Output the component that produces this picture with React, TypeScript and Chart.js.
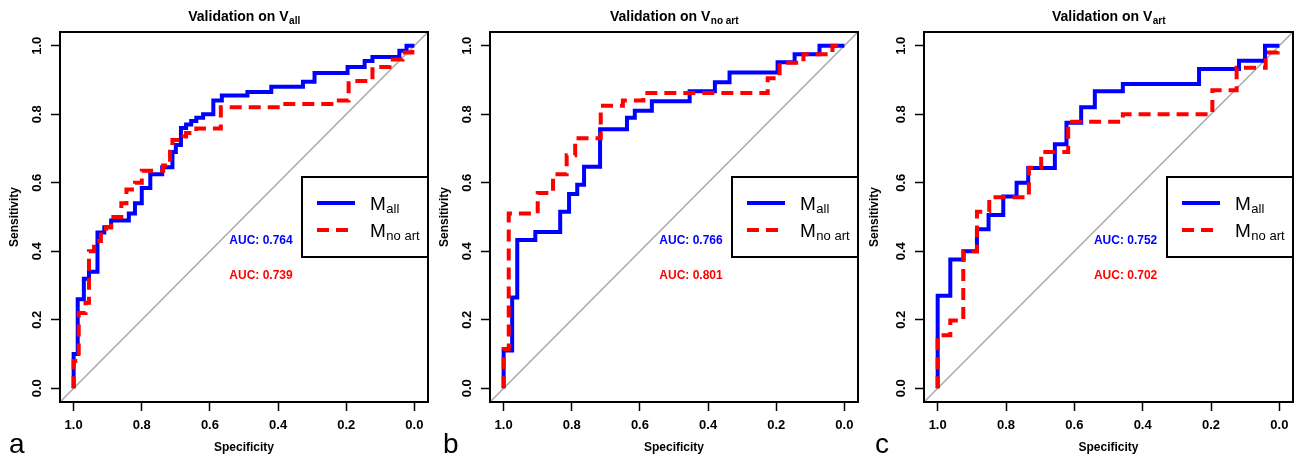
import React, { useEffect, useRef } from "react";
import { Chart, registerables } from "chart.js";
Chart.register(...registerables);

// ---------- data ----------
const TICK_VALUES = [0, 0.2, 0.4, 0.6, 0.8, 1.0];
const TICK_LABELS = ["0.0", "0.2", "0.4", "0.6", "0.8", "1.0"];

const TITLE_SUBS = ["all", "no art", "art"];
const PANEL_LETTERS = ["a", "b", "c"];
const SERIES_NAMES = ["all", "no art"];
const AUC_ALL = [0.764, 0.766, 0.752];
const AUC_NOART = [0.739, 0.801, 0.702];

// Panel a
const A_ALL_SPEC = [1, 1, 0.988, 0.97, 0.955, 0.93, 0.91, 0.89, 0.838, 0.82, 0.8, 0.775, 0.74, 0.71, 0.7, 0.685, 0.67, 0.655, 0.64, 0.62, 0.59, 0.565, 0.49, 0.42, 0.327, 0.293, 0.196, 0.146, 0.123, 0.044, 0.023, 0];
const A_ALL_SENS = [0, 0.1, 0.26, 0.32, 0.34, 0.455, 0.47, 0.49, 0.51, 0.54, 0.585, 0.625, 0.645, 0.69, 0.71, 0.76, 0.77, 0.78, 0.79, 0.8, 0.84, 0.855, 0.865, 0.88, 0.895, 0.92, 0.938, 0.955, 0.967, 0.985, 1.0, 1.0];
const A_NOART_SPEC = [1, 1, 0.985, 0.965, 0.955, 0.94, 0.92, 0.905, 0.89, 0.86, 0.845, 0.82, 0.8, 0.737, 0.717, 0.71, 0.678, 0.67, 0.64, 0.568, 0.385, 0.228, 0.193, 0.123, 0.073, 0.035, 0.006, 0];
const A_NOART_SENS = [0, 0.08, 0.22, 0.25, 0.4, 0.43, 0.455, 0.47, 0.5, 0.54, 0.58, 0.6, 0.635, 0.65, 0.7, 0.725, 0.735, 0.745, 0.758, 0.82, 0.83, 0.84, 0.897, 0.938, 0.96, 0.98, 1.0, 1.0];

// Panel b
const B_ALL_SPEC = [1, 1, 0.975, 0.96, 0.907, 0.834, 0.808, 0.784, 0.764, 0.717, 0.638, 0.615, 0.565, 0.454, 0.38, 0.337, 0.196, 0.146, 0.073, 0];
const B_ALL_SENS = [0, 0.11, 0.265, 0.433, 0.456, 0.515, 0.567, 0.594, 0.647, 0.756, 0.79, 0.81, 0.838, 0.867, 0.893, 0.922, 0.952, 0.975, 1.0, 1.0];
const B_NOART_SPEC = [1, 1, 0.985, 0.9, 0.855, 0.815, 0.79, 0.715, 0.65, 0.59, 0.225, 0.19, 0.12, 0.035, 0];
const B_NOART_SENS = [0, 0.115, 0.51, 0.57, 0.625, 0.68, 0.73, 0.825, 0.84, 0.862, 0.905, 0.95, 0.975, 1.0, 1.0];

// Panel c
const C_ALL_SPEC = [1, 1, 0.963, 0.924, 0.885, 0.851, 0.808, 0.769, 0.735, 0.657, 0.623, 0.58, 0.54, 0.458, 0.235, 0.118, 0.042, 0];
const C_ALL_SENS = [0, 0.27, 0.376, 0.4, 0.464, 0.506, 0.56, 0.6, 0.643, 0.712, 0.775, 0.82, 0.867, 0.888, 0.932, 0.956, 1.0, 1.0];
const C_NOART_SPEC = [1, 1, 0.963, 0.925, 0.885, 0.849, 0.733, 0.697, 0.618, 0.458, 0.196, 0.125, 0.04, 0.005, 0];
const C_NOART_SENS = [0, 0.155, 0.198, 0.4, 0.515, 0.558, 0.644, 0.69, 0.778, 0.8, 0.87, 0.936, 0.98, 1.0, 1.0];

const CURVES = [
  { allSpec: A_ALL_SPEC, allSens: A_ALL_SENS, noSpec: A_NOART_SPEC, noSens: A_NOART_SENS },
  { allSpec: B_ALL_SPEC, allSens: B_ALL_SENS, noSpec: B_NOART_SPEC, noSens: B_NOART_SENS },
  { allSpec: C_ALL_SPEC, allSens: C_ALL_SENS, noSpec: C_NOART_SPEC, noSens: C_NOART_SENS },
];

const DIAG_SPEC = [1.04, -0.04];
const DIAG_SENS = [-0.04, 1.04];
const AUC_POS_SPEC = 0.45;
const AUC_POS_SENS = [0.43, 0.33];

// ---------- layout / style ----------
const LAYOUT = [
  { left: 0, width: 430, axisW: 60, letterX: 9 },
  { left: 430, width: 430, axisW: 60, letterX: 13 },
  { left: 860, width: 435, axisW: 64, letterX: 15 },
];
const H = 460;
const FONT = "'Liberation Sans', Arial, Helvetica, sans-serif";
const BLUE = "#0000ff";
const RED = "#ff0000";

Chart.defaults.font.family = FONT;

function pts(xs: number[], ys: number[]) {
  return xs.map((x, i) => ({ x, y: ys[i] }));
}

function drawSub(ctx: CanvasRenderingContext2D, x: number, y: number, main: string, sub: string,
  mainFont: string, subFont: string, dy: number, center: boolean) {
  ctx.font = mainFont;
  const w1 = ctx.measureText(main).width;
  ctx.font = subFont;
  const w2 = ctx.measureText(sub).width;
  const sx = center ? x - (w1 + w2) / 2 : x;
  ctx.textAlign = "left";
  ctx.textBaseline = "alphabetic";
  ctx.font = mainFont;
  ctx.fillText(main, sx, y);
  ctx.font = subFont;
  ctx.fillText(sub, sx + w1 + 0.5, y + dy);
}

function RocPanel({ idx }: { idx: number }) {
  const ref = useRef<HTMLCanvasElement>(null);
  const L = LAYOUT[idx];
  useEffect(() => {
    const c = CURVES[idx];
    const overlay = {
      id: "overlay" + idx,
      afterDraw(chart: any) {
        const ctx: CanvasRenderingContext2D = chart.ctx;
        const ca = chart.chartArea;
        const xs = chart.scales.x;
        const ys = chart.scales.y;
        ctx.save();
        // frame
        ctx.strokeStyle = "#000";
        ctx.lineWidth = 2;
        ctx.setLineDash([]);
        ctx.strokeRect(ca.left, ca.top, ca.right - ca.left, ca.bottom - ca.top);
        ctx.fillStyle = "#000";
        const cx = (ca.left + ca.right) / 2;
        const cy = (ca.top + ca.bottom) / 2;
        // title
        drawSub(ctx, cx, 21, "Validation on V", TITLE_SUBS[idx], `bold 14px ${FONT}`, `bold 10px ${FONT}`, 3, true);
        // x title
        ctx.font = `bold 12px ${FONT}`;
        ctx.textAlign = "center";
        ctx.textBaseline = "middle";
        ctx.fillText("Specificity", cx, 448);
        // y title
        ctx.save();
        ctx.translate(15, cy);
        ctx.rotate(-Math.PI / 2);
        ctx.fillText("Sensitivity", 0, 0);
        ctx.restore();
        // panel letter
        ctx.font = `28px ${FONT}`;
        ctx.textAlign = "left";
        ctx.textBaseline = "alphabetic";
        ctx.fillText(PANEL_LETTERS[idx], L.letterX, 453);
        // AUC texts
        ctx.font = `bold 12px ${FONT}`;
        ctx.textAlign = "center";
        ctx.textBaseline = "middle";
        const ax = xs.getPixelForValue(AUC_POS_SPEC);
        ctx.fillStyle = BLUE;
        ctx.fillText(`AUC: ${AUC_ALL[idx].toFixed(3)}`, ax, ys.getPixelForValue(AUC_POS_SENS[0]));
        ctx.fillStyle = RED;
        ctx.fillText(`AUC: ${AUC_NOART[idx].toFixed(3)}`, ax, ys.getPixelForValue(AUC_POS_SENS[1]));
        // legend
        const lw = 126, lh = 80;
        const lx = ca.right - lw;
        const ly = cy - lh / 2;
        ctx.fillStyle = "#fff";
        ctx.fillRect(lx, ly, lw, lh);
        ctx.strokeStyle = "#000";
        ctx.lineWidth = 2;
        ctx.strokeRect(lx, ly, lw, lh);
        const entries = [
          { color: BLUE, dash: [] as number[], y: ly + 26 },
          { color: RED, dash: [12, 7], y: ly + 53 },
        ];
        entries.forEach((e, i) => {
          ctx.strokeStyle = e.color;
          ctx.lineWidth = 4;
          ctx.setLineDash(e.dash);
          ctx.beginPath();
          ctx.moveTo(lx + 15, e.y);
          ctx.lineTo(lx + 53, e.y);
          ctx.stroke();
          ctx.setLineDash([]);
          ctx.fillStyle = "#000";
          drawSub(ctx, lx + 68, e.y + 7, "M", SERIES_NAMES[i], `19px ${FONT}`, `13px ${FONT}`, 3, false);
        });
        ctx.restore();
      },
    };

    const chart = new Chart(ref.current!, {
      type: "line",
      data: {
        datasets: [
          {
            label: "M no art",
            data: pts(c.noSpec, c.noSens),
            borderColor: RED,
            borderWidth: 4,
            borderDash: [12, 7],
            stepped: "before",
            pointRadius: 0,
            fill: false,
            borderCapStyle: "butt",
          },
          {
            label: "M all",
            data: pts(c.allSpec, c.allSens),
            borderColor: BLUE,
            borderWidth: 4,
            stepped: "before",
            pointRadius: 0,
            fill: false,
          },
          {
            label: "diag",
            data: pts(DIAG_SPEC, DIAG_SENS),
            borderColor: "#a8a8a8",
            borderWidth: 1.5,
            pointRadius: 0,
            fill: false,
          },
        ],
      },
      options: {
        animation: false,
        responsive: false,
        maintainAspectRatio: false,
        layout: { padding: { top: 32, right: 2, left: 0, bottom: 0 } },
        plugins: { legend: { display: false }, tooltip: { enabled: false }, title: { display: false } },
        scales: {
          x: {
            type: "linear",
            reverse: true,
            min: -0.04,
            max: 1.04,
            afterFit: (s: any) => { s.height = 58; },
            afterBuildTicks: (s: any) => { s.ticks = TICK_VALUES.map((v) => ({ value: v })); },
            ticks: {
              callback: (v: any) => TICK_LABELS[TICK_VALUES.findIndex((t) => Math.abs(t - v) < 1e-6)] ?? "",
              color: "#000",
              font: { size: 13, family: FONT, weight: "bold" },
              padding: 7,
              maxRotation: 0,
              minRotation: 0,
              autoSkip: false,
            },
            grid: { drawOnChartArea: false, tickLength: 9, tickColor: "#000", tickWidth: 1.5 },
            border: { display: true, color: "#000", width: 2 },
          },
          y: {
            type: "linear",
            min: -0.04,
            max: 1.04,
            afterFit: (s: any) => { s.width = L.axisW; },
            afterBuildTicks: (s: any) => { s.ticks = TICK_VALUES.map((v) => ({ value: v })); },
            ticks: {
              callback: (v: any) => TICK_LABELS[TICK_VALUES.findIndex((t) => Math.abs(t - v) < 1e-6)] ?? "",
              color: "#000",
              font: { size: 13, family: FONT, weight: "bold" },
              padding: 5,
              minRotation: 90,
              maxRotation: 90,
              crossAlign: "center",
              autoSkip: false,
            },
            grid: { drawOnChartArea: false, tickLength: 9, tickColor: "#000", tickWidth: 1.5 },
            border: { display: true, color: "#000", width: 2 },
          },
        },
      } as any,
      plugins: [overlay as any],
    });
    return () => chart.destroy();
  }, [idx]);
  return (
    <canvas
      ref={ref}
      width={L.width}
      height={H}
      style={{ position: "absolute", left: L.left, top: 0, width: L.width, height: H }}
    />
  );
}

export default function App() {
  return (
    <div style={{ position: "absolute", left: 0, top: 0, width: 1295, height: H, background: "#fff", overflow: "hidden" }}>
      <RocPanel idx={0} />
      <RocPanel idx={1} />
      <RocPanel idx={2} />
    </div>
  );
}
